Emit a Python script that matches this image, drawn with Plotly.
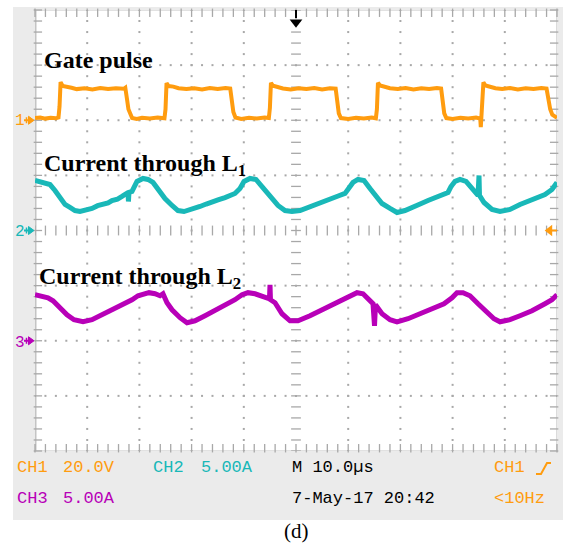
import numpy as np
import plotly.graph_objects as go

# ---------------- data ----------------
# time in microseconds (10 us / div, 10 divisions)
ch1_t = [0, 1.0, 2.0, 3.0, 4.0, 4.5, 4.7, 4.9, 5.3, 6.0, 7.0, 8.0, 9.5, 11.0, 12.5, 14.0, 15.5, 17.0, 17.3,
         17.6, 17.9, 18.3, 18.6, 19.5, 20.5, 22.0, 23.5, 24.8, 25.0, 25.2, 25.6, 26.5, 27.5, 29.0, 30.5, 32.0,
         33.5, 35.0, 36.5, 37.4, 37.7, 38.0, 38.4, 39.5, 41.0, 42.5, 44.0, 44.8, 45.0, 45.2, 45.6, 46.5, 47.5,
         49.0, 50.5, 52.0, 53.5, 55.0, 56.5, 57.6, 57.9, 58.2, 58.6, 60.0, 61.5, 63.0, 64.5, 65.3, 65.5, 65.7,
         66.1, 67.0, 68.0, 69.5, 71.0, 72.5, 74.0, 75.5, 77.0, 77.8, 78.1, 78.4, 78.8, 80.0, 81.5, 83.0, 84.5,
         85.3, 85.4, 85.5, 85.7, 85.9, 86.3, 87.2, 88.2, 89.5, 91.0, 92.5, 94.0, 95.5, 97.0, 98.0, 98.3, 98.7,
         99.1, 99.5, 100]
ch1_v = [0.8, 1.0, 0.6, 0.9, 0.7, 1.0, 5.0, 13.8, 12.4, 12.0, 11.8, 11.3, 11.6, 11.2, 11.7, 11.3, 11.6, 11.4, 11.8,
         8.0, 4.0, 2.2, 0.8, 0.5, 0.9, 0.6, 1.0, 0.7, 4.0, 13.5, 12.4, 12.2, 11.6, 11.3, 11.6, 11.2,
         11.7, 11.3, 11.7, 11.5, 7.0, 3.0, 1.0, 0.5, 0.9, 0.6, 1.0, 0.8, 4.5, 13.6, 12.5, 12.0, 11.5,
         11.2, 11.6, 11.3, 11.7, 11.2, 11.6, 11.5, 6.5, 2.5, 0.8, 0.5, 0.9, 0.6, 1.0, 0.7, 4.0, 13.6,
         12.6, 12.1, 11.6, 11.3, 11.7, 11.2, 11.6, 11.3, 11.7, 11.5, 6.0, 2.5, 0.8, 0.5, 0.9, 0.6, 1.0,
         0.6, -2.5, 1.0, 5.0, 13.7, 12.6, 12.0, 11.6, 11.3, 11.7, 11.2, 11.6, 11.3, 11.7, 11.5, 8.0, 4.0,
         2.0, 1.5, 0.9]

ch2_t = [0, 0.96, 1.92, 2.87, 3.83, 4.79, 5.75, 6.70, 7.66, 8.62, 9.58, 10.92, 12.0, 12.84, 14.0, 14.75, 15.8,
         16.67, 17.82, 17.9, 18.0, 18.58, 18.97, 19.54, 20.69, 21.65, 22.61, 23.56, 24.90, 26.25, 27.39, 28.54,
         30.08, 31.61, 32.8, 33.91, 35.2, 36.40, 38.31, 39.27, 40.04, 41.19, 42.34, 43.49, 45.02, 46.55, 47.89,
         49.23, 50.77, 52.68, 53.6, 54.60, 57.09, 58.2, 59.39, 60.15, 60.92, 61.88, 63.03, 64.18, 65.33, 66.48,
         68.01, 69.35, 70.88, 72.80, 74.0, 75.29, 77.59, 79.12, 79.69, 80.46, 81.42, 82.57, 83.72, 84.87,
         85.06, 85.15, 86.02, 87.55, 89.08, 91.00, 92.91, 94.0, 95.21, 97.70, 99.04, 100]
ch2_a = [4.54, 4.45, 4.36, 4.17, 3.63, 2.90, 2.36, 2.09, 1.81, 1.72, 1.81, 2.00, 2.25, 2.36, 2.50, 2.72, 2.85,
         3.09, 3.45, 2.63, 3.45, 3.54, 3.99, 4.45, 4.72, 4.63, 4.36, 3.72, 2.90, 2.27, 1.81, 1.72,
         1.91, 2.18, 2.40, 2.54, 2.80, 2.99, 3.36, 3.81, 4.45, 4.72, 4.63, 3.99, 3.09, 2.27, 1.81,
         1.72, 1.81, 2.18, 2.38, 2.54, 2.99, 3.15, 3.36, 3.81, 4.36, 4.63, 4.54, 3.81, 3.09, 2.45,
         2.00, 1.63, 1.81, 2.27, 2.45, 2.72, 3.18, 3.45, 3.99, 4.45, 4.63, 4.45, 3.81, 3.18,
         4.99, 3.18, 2.54, 1.91, 1.72, 1.91, 2.36, 2.55, 2.81, 3.27, 3.72, 4.36]

ch3_t = [0, 1.34, 2.49, 3.45, 4.79, 6.13, 7.47, 9.20, 10.92, 12.84, 14.0, 14.75, 16.67, 18.58, 19.73, 20.69,
         21.84, 22.99, 23.95, 24.52, 25.29, 26.25, 27.78, 29.12, 30.65, 32.57, 34.48, 36.40, 38.31, 39.66,
         40.80, 42.15, 43.49, 44.92, 45.02, 45.11, 45.98, 47.32, 48.85, 50.38, 52.68, 54.98, 57.47, 59.39,
         60.73, 61.69, 62.84, 63.79, 64.75, 65.04, 65.23, 66.48, 68.01, 69.35, 71.46, 73.75, 76.05, 78.35,
         79.89, 80.84, 81.99, 83.33, 84.87, 86.40, 87.93, 89.08, 91.00, 92.91, 95.21, 97.70, 99.04, 100]
ch3_a = [4.17, 4.08, 3.90, 3.63, 2.99, 2.36, 1.91, 1.72, 1.91, 2.36, 2.55, 2.72, 3.18, 3.72, 4.08, 4.26,
         4.36, 4.26, 4.08, 4.26, 3.45, 2.81, 2.09, 1.63, 1.81, 2.27, 2.72, 3.18, 3.72, 4.17,
         4.36, 4.26, 3.99, 3.81, 5.08, 3.72, 3.45, 2.45, 1.81, 1.81, 2.27, 2.81, 3.45, 3.90,
         4.26, 4.36, 4.26, 3.81, 3.36, 1.36, 3.27, 2.45, 1.91, 1.72, 2.00, 2.45, 2.90, 3.36,
         3.90, 4.36, 4.36, 4.08, 3.36, 2.63, 2.00, 1.72, 1.91, 2.27, 2.72, 3.36, 3.72, 4.17]

ch1_scale, ch2_scale, ch3_scale = 20.0, 5.0, 5.0      # volts / amps per division
ch1_pos, ch2_pos, ch3_pos = 2.0, 0.0, -2.0            # ground marker positions (div)

info_row1 = ["CH1", "20.0V", "CH2", "5.00A", "M 10.0µs", "CH1"]
info_row2 = ["CH3", "5.00A", "7-May-17 20:42", "<10Hz"]
labels = ["Gate pulse", "Current through L<sub>1</sub>", "Current through L<sub>2</sub>"]
caption = "(d)"

# ---------------- styling ----------------
ORANGE = "#ff9c0f"
CYAN = "#19b8b8"
MAGENTA = "#b800b8"
GRID = "#a8a8a8"
PANEL = "#ebebeb"

W, H = 563, 545
L, R, T, B = 35, 6, 10, 94
PW, PH = W - L - R, H - T - B


def px(xp):
    return (xp - L) / PW


def py(yp):
    return (H - B - yp) / PH


def ypix(div):
    return T + (4 - div) / 8 * PH


fig = go.Figure()

# ---------------- graticule ----------------
minor_y = np.round(np.arange(-4, 4.001, 0.2), 3)
minor_x = np.round(np.arange(0, 100.001, 2.0), 3)
gx, gy = [], []
for xv in range(10, 100, 10):
    if xv == 50:
        continue
    gx += [xv] * len(minor_y)
    gy += list(minor_y)
for yv in [-3, -2, -1, 1, 2, 3]:
    gx += list(minor_x)
    gy += [yv] * len(minor_x)
fig.add_trace(go.Scatter(x=gx, y=gy, mode="markers", hoverinfo="skip",
                         marker=dict(symbol="square", size=2, color=GRID, line=dict(width=0))))
# center cross ticks
fig.add_trace(go.Scatter(x=[50] * len(minor_y), y=minor_y, mode="markers", hoverinfo="skip",
                         marker=dict(symbol="line-ew", size=7, line=dict(width=1.3, color=GRID))))
fig.add_trace(go.Scatter(x=minor_x, y=[0] * len(minor_x), mode="markers", hoverinfo="skip",
                         marker=dict(symbol="line-ns", size=7, line=dict(width=1.3, color=GRID))))
# border ticks
fig.add_trace(go.Scatter(x=list(minor_x) * 2, y=[3.95] * len(minor_x) + [-3.95] * len(minor_x),
                         mode="markers", hoverinfo="skip", cliponaxis=False,
                         marker=dict(symbol="line-ns", size=6, line=dict(width=1.3, color=GRID))))
fig.add_trace(go.Scatter(x=[0.55] * len(minor_y) + [99.45] * len(minor_y), y=list(minor_y) * 2,
                         mode="markers", hoverinfo="skip", cliponaxis=False,
                         marker=dict(symbol="line-ew", size=6, line=dict(width=1.3, color=GRID))))

# ---------------- waveforms ----------------
fig.add_trace(go.Scatter(x=ch1_t, y=[v / ch1_scale + ch1_pos for v in ch1_v], mode="lines",
                         line=dict(color=ORANGE, width=4), hoverinfo="skip"))
fig.add_trace(go.Scatter(x=ch2_t, y=[v / ch2_scale + ch2_pos for v in ch2_a], mode="lines",
                         line=dict(color=CYAN, width=5), hoverinfo="skip"))
fig.add_trace(go.Scatter(x=ch3_t, y=[v / ch3_scale + ch3_pos for v in ch3_a], mode="lines",
                         line=dict(color=MAGENTA, width=5), hoverinfo="skip"))

# trigger level (right)
fig.add_trace(go.Scatter(x=[98.9, 100], y=[0, 0], mode="lines", cliponaxis=False,
                         line=dict(color=ORANGE, width=2), hoverinfo="skip"))
fig.add_trace(go.Scatter(x=[98.6], y=[0], mode="markers", cliponaxis=False, hoverinfo="skip",
                         marker=dict(symbol="triangle-left", size=10, color=ORANGE)))
# trigger position (top)
fig.add_trace(go.Scatter(x=[50, 50], y=[4.0, 3.85], mode="lines", cliponaxis=False,
                         line=dict(color="black", width=2), hoverinfo="skip"))
fig.add_trace(go.Scatter(x=[50], y=[3.78], mode="markers", cliponaxis=False, hoverinfo="skip",
                         marker=dict(symbol="triangle-down", size=11, color="black")))

# ---------------- shapes ----------------
shapes = [
    dict(type="rect", xref="paper", yref="paper", x0=px(13), x1=px(566), y0=py(520), y1=py(7),
         fillcolor=PANEL, line=dict(width=0), layer="below"),
    dict(type="rect", xref="x", yref="y", x0=0, x1=100, y0=-4, y1=4,
         fillcolor="white", line=dict(color="#c4c4c4", width=1.2), layer="below"),
    dict(type="line", xref="x", yref="y", x0=0, x1=0, y0=-4, y1=4,
         line=dict(color="#c4c4c4", width=3), layer="below"),
    # trigger slope symbol
    dict(type="path", xref="paper", yref="paper",
         path=f"M {px(536)} {py(474)} L {px(541)} {py(474)} L {px(547)} {py(463)} L {px(551)} {py(463)}",
         line=dict(color=ORANGE, width=2)),
]
# channel ground markers (left of graticule)
for pos, col in [(ch1_pos, ORANGE), (ch2_pos, CYAN), (ch3_pos, MAGENTA)]:
    yc = ypix(pos)
    shapes.append(dict(type="line", xref="paper", yref="paper", x0=px(24), x1=px(30), y0=py(yc), y1=py(yc),
                       line=dict(color=col, width=2)))
    shapes.append(dict(type="line", xref="paper", yref="paper", x0=px(26.5), x1=px(26.5),
                       y0=py(yc - 3), y1=py(yc + 3), line=dict(color=col, width=1.5)))
    shapes.append(dict(type="path", xref="paper", yref="paper",
                       path=f"M {px(28.5)} {py(yc - 4)} L {px(34)} {py(yc)} L {px(28.5)} {py(yc + 4)} Z",
                       fillcolor=col, line=dict(color=col, width=1)))

ann = []
scope_font = "Liberation Mono, DejaVu Sans Mono, monospace"


def add_text(text, xp, yp, color, size=17, family=scope_font, xanchor="left"):
    ann.append(dict(text=text, xref="paper", yref="paper", x=px(xp), y=py(yp), xanchor=xanchor,
                    yanchor="middle", showarrow=False, font=dict(family=family, size=size, color=color)))


# channel numbers
add_text("1", 13, 121, ORANGE, size=16)
add_text("2", 13, 232, CYAN, size=16)
add_text("3", 13, 343, MAGENTA, size=16)

# info rows
add_text(info_row1[0], 15, 467, ORANGE)
add_text(info_row1[1], 61, 467, ORANGE)
add_text(info_row1[2], 151, 467, CYAN)
add_text(info_row1[3], 199, 467, CYAN)
add_text(info_row1[4], 290, 467, "black")
add_text(info_row1[5], 492, 467, ORANGE)
add_text(info_row2[0], 15, 498, MAGENTA)
add_text(info_row2[1], 61, 498, MAGENTA)
add_text(info_row2[2], 290, 498, "black")
add_text(info_row2[3], 492, 498, ORANGE)

# waveform labels
serif = "Liberation Serif, Times New Roman, serif"
add_text("<b>" + labels[0] + "</b>", 42, 60, "black", size=24, family=serif)
add_text("<b>" + labels[1] + "</b>", 42, 165, "black", size=24, family=serif)
add_text("<b>" + labels[2] + "</b>", 37, 278, "black", size=24, family=serif)

# caption
add_text(caption, 296, 531, "black", size=21, family=serif, xanchor="center")

fig.update_layout(
    width=W, height=H,
    margin=dict(l=L, r=R, t=T, b=B, pad=0),
    paper_bgcolor="white", plot_bgcolor="white",
    showlegend=False,
    xaxis=dict(range=[0, 100], showgrid=False, zeroline=False, showticklabels=False, ticks="",
               showline=False, fixedrange=True),
    yaxis=dict(range=[-4, 4], showgrid=False, zeroline=False, showticklabels=False, ticks="",
               showline=False, fixedrange=True),
    shapes=shapes,
    annotations=ann,
)

fig.write_html("out.html")
